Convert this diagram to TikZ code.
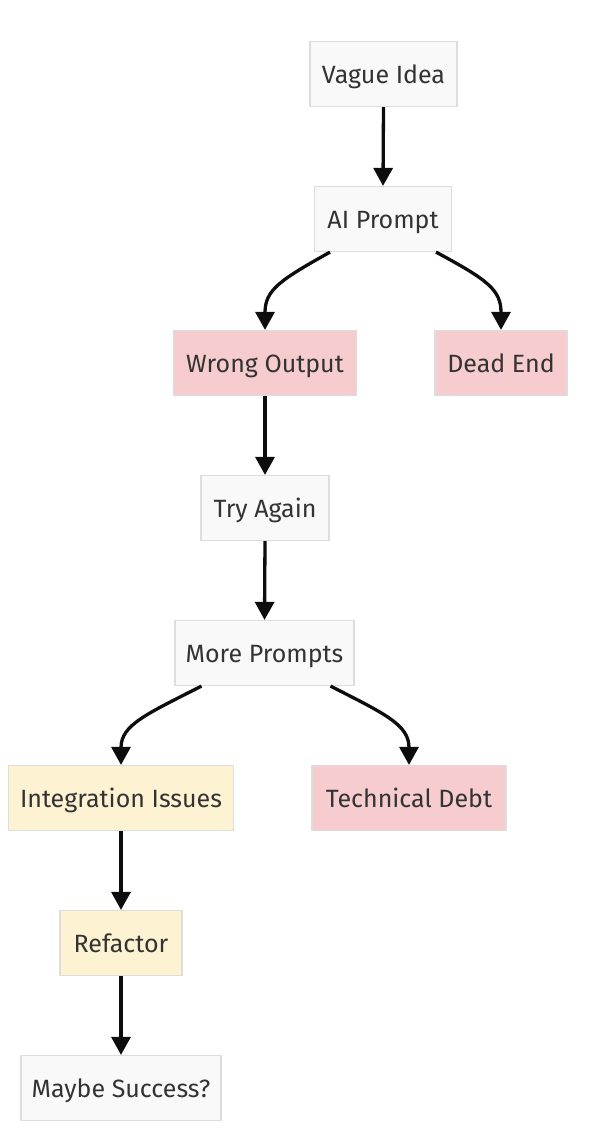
\documentclass[tikz,border=0pt]{standalone}
\usepackage{fontspec}
\setmainfont{Fira Sans}
\usetikzlibrary{arrows.meta}
\definecolor{grayfill}{HTML}{F9F9F9}
\definecolor{graystroke}{HTML}{DDDDDD}
\definecolor{redfill}{HTML}{F6CCCE}
\definecolor{yellowfill}{HTML}{FDF3D3}
\definecolor{txt}{HTML}{333333}
\tikzset{
  box/.style={draw=graystroke, line width=1.2pt, minimum height=65pt, inner sep=0pt, text=txt, text height=21pt, text depth=2pt, font=\fontsize{25}{28}\selectfont},
  plain/.style={box, fill=grayfill},
  bad/.style={box, fill=redfill},
  warn/.style={box, fill=yellowfill},
  arr/.style={line width=3.3pt, draw=black!95, -{Triangle[length=18pt,width=19pt]}}
}
\begin{document}
\begin{tikzpicture}[x=1pt,y=-1pt]
\useasboundingbox (0,0) rectangle (592,1132);
\node[plain, minimum width=147pt] (a) at (383.5,74) {Vague Idea};
\node[plain, minimum width=137pt] (b) at (383,219) {AI Prompt};
\node[bad, minimum width=183pt] (c) at (265,363) {Wrong Output};
\node[bad, minimum width=132pt] (d) at (501,363) {Dead End};
\node[plain, minimum width=128pt] (e) at (265,508) {Try Again};
\node[plain, minimum width=179pt] (f) at (264.5,653) {More Prompts};
\node[warn, minimum width=225pt] (g) at (121,798) {Integration Issues};
\node[bad, minimum width=194pt] (h) at (409,798) {Technical Debt};
\node[warn, minimum width=122pt] (i) at (121,943) {Refactor};
\node[plain, minimum width=200pt] (j) at (121,1088) {Maybe Success?};
\draw[arr] (a.south) -- (b.south |- b.north);
\draw[arr] ([xshift=-53pt]b.south) .. controls +(-50,28) and +(0,-40) .. (c.north);
\draw[arr] ([xshift=53pt]b.south) .. controls +(52,28) and +(0,-40) .. (d.north);
\draw[arr] (c.south) -- (e.north);
\draw[arr] (e.south) -- (f.north);
\draw[arr] ([xshift=-63pt]f.south) .. controls +(-55,28) and +(0,-40) .. (g.north);
\draw[arr] ([xshift=66pt]f.south) .. controls +(55,28) and +(0,-40) .. (h.north);
\draw[arr] (g.south) -- (i.north);
\draw[arr] (i.south) -- (j.north);
\end{tikzpicture}
\end{document}
